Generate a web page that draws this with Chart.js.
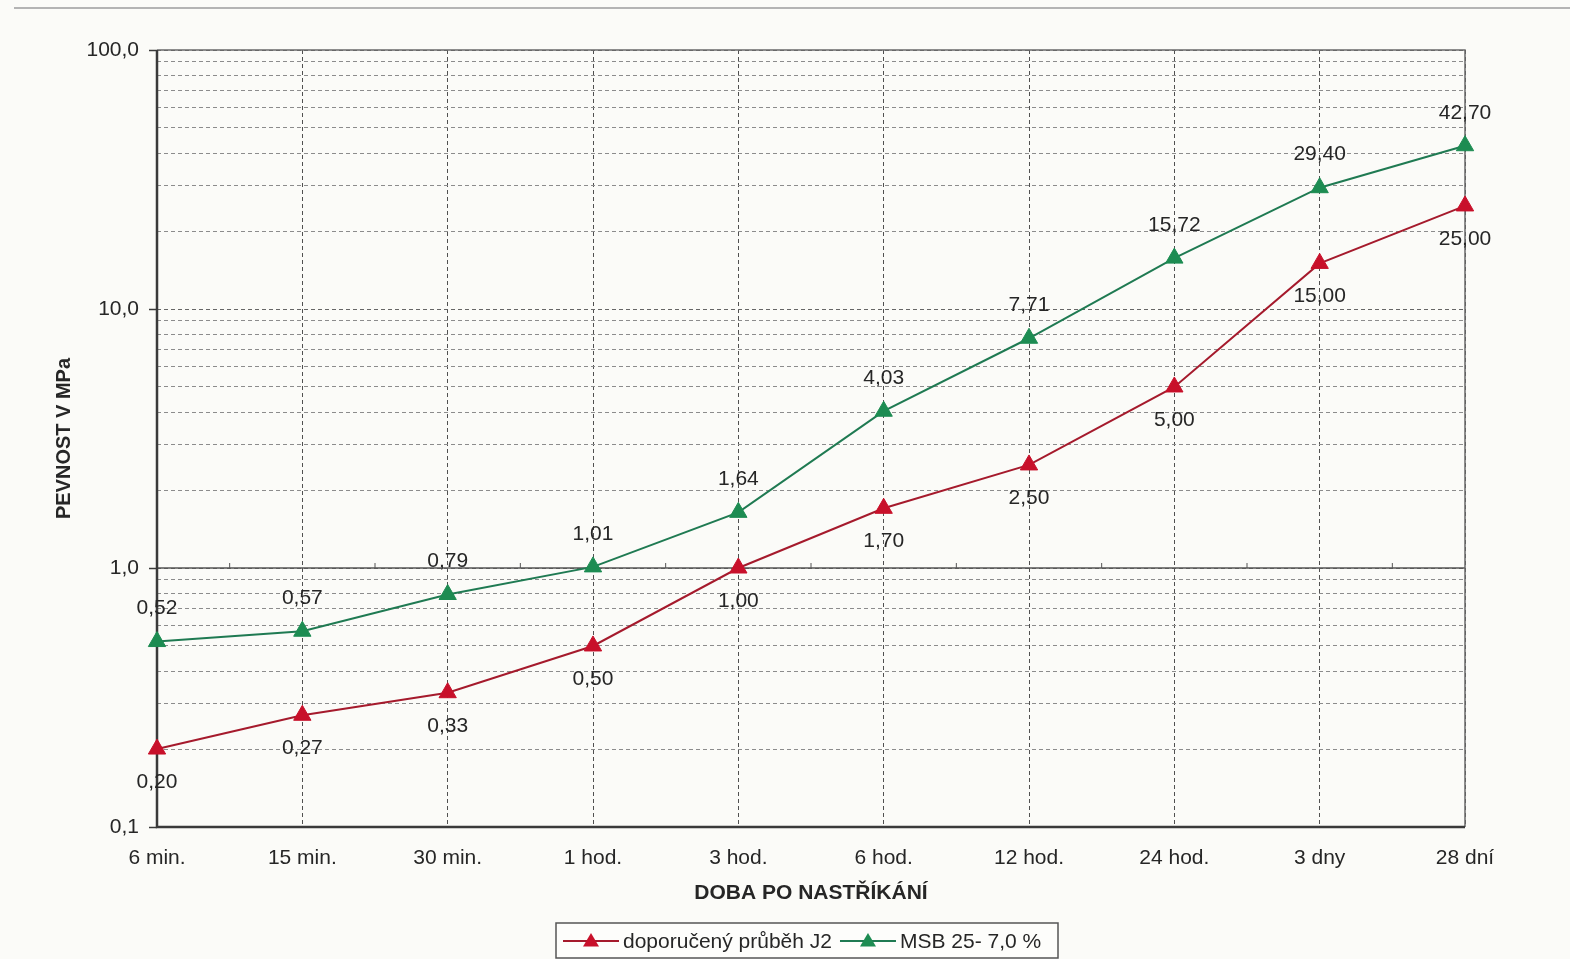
<!DOCTYPE html>
<html>
<head>
<meta charset="utf-8">
<title>Pevnost v MPa</title>
<script src="https://cdn.jsdelivr.net/npm/chart.js@4.4.1/dist/chart.umd.min.js"></script>
<style>
  html, body { margin: 0; padding: 0; background: #fbfbf8; }
  #wrap { position: relative; width: 1570px; height: 959px; }
  #rule { position: absolute; left: 14px; right: 0; top: 7px; height: 0; border-top: 2px solid #b4b4b4; }
  canvas { position: absolute; left: 0; top: 0; }
</style>
</head>
<body>
<div id="wrap">
  <div id="rule"></div>
  <canvas id="chart" width="1570" height="959"></canvas>
</div>
<script>
// Categories: time after spraying
const categories = ['6 min.', '15 min.', '30 min.', '1 hod.', '3 hod.', '6 hod.', '12 hod.', '24 hod.', '3 dny', '28 dní'];

// Strength in MPa
const recommendedJ2 = [0.20, 0.27, 0.33, 0.50, 1.00, 1.70, 2.50, 5.00, 15.00, 25.00];
const msb25 = [0.52, 0.57, 0.79, 1.01, 1.64, 4.03, 7.71, 15.72, 29.40, 42.70];

const seriesNames = ['doporučený průběh J2', 'MSB 25- 7,0 %'];

// Log axis: decades labelled, intermediate steps only as grid lines
const decadeTicks = [0.1, 1, 10, 100];

const FONT = 'Liberation Sans, Arial, sans-serif';
const TEXT = '#262626';
const RED_LINE = '#a51a2c', RED_MARK = '#c8102a';
const GREEN_LINE = '#1f7a52', GREEN_MARK = '#1d8c52';

function isDecade(v) {
  return decadeTicks.some(d => Math.abs(v - d) < 1e-9);
}
function fmt(v, digits) {
  return v.toFixed(digits).replace('.', ',');
}

// Frame, solid 1,0 line and small category ticks on it
const framePlugin = {
  id: 'frame',
  beforeDatasetsDraw(chart) {
    const {ctx, chartArea: a, scales: {x, y}} = chart;
    ctx.save();
    const y1 = y.getPixelForValue(1);
    ctx.strokeStyle = '#555';
    ctx.lineWidth = 1.5;
    ctx.beginPath();
    ctx.moveTo(a.left, y1);
    ctx.lineTo(a.right, y1);
    ctx.stroke();
    ctx.lineWidth = 1;
    for (let i = 0; i < categories.length - 1; i++) {
      const xm = (x.getPixelForValue(i) + x.getPixelForValue(i + 1)) / 2;
      ctx.beginPath();
      ctx.moveTo(xm, y1);
      ctx.lineTo(xm, y1 - 5);
      ctx.stroke();
    }
    ctx.strokeStyle = '#6a6a6a';
    ctx.lineWidth = 1.5;
    ctx.beginPath();
    ctx.moveTo(a.left, a.top);
    ctx.lineTo(a.right, a.top);
    ctx.lineTo(a.right, a.bottom);
    ctx.stroke();
    ctx.strokeStyle = '#3a3a3a';
    ctx.lineWidth = 2.5;
    ctx.beginPath();
    ctx.moveTo(a.left, a.top);
    ctx.lineTo(a.left, a.bottom);
    ctx.lineTo(a.right, a.bottom);
    ctx.stroke();
    ctx.restore();
  }
};

// Value labels: green above its points, red below
const valueLabelPlugin = {
  id: 'valueLabels',
  afterDatasetsDraw(chart) {
    const {ctx} = chart;
    ctx.save();
    ctx.font = '21px ' + FONT;
    ctx.fillStyle = TEXT;
    ctx.textAlign = 'center';
    ctx.textBaseline = 'middle';
    chart.data.datasets.forEach((ds, di) => {
      const meta = chart.getDatasetMeta(di);
      const dy = di === 1 ? -33 : 33;
      meta.data.forEach((pt, i) => {
        ctx.fillText(fmt(ds.data[i], 2), pt.x, pt.y + dy);
      });
    });
    ctx.restore();
  }
};

// Boxed legend below the axis title
const legendBoxPlugin = {
  id: 'legendBox',
  afterDraw(chart) {
    const {ctx} = chart;
    const box = {left: 556, top: 923, right: 1058, bottom: 958};
    const cy = 941;
    ctx.save();
    ctx.fillStyle = '#fdfdfb';
    ctx.fillRect(box.left, box.top, box.right - box.left, box.bottom - box.top);
    ctx.strokeStyle = '#555';
    ctx.lineWidth = 1.5;
    ctx.strokeRect(box.left, box.top, box.right - box.left, box.bottom - box.top);
    ctx.font = '21px ' + FONT;
    ctx.textBaseline = 'middle';
    ctx.textAlign = 'left';
    let xPos = box.left + 7;
    chart.data.datasets.forEach((ds) => {
      const lineLen = 56;
      ctx.strokeStyle = ds.borderColor;
      ctx.lineWidth = 2;
      ctx.beginPath();
      ctx.moveTo(xPos, cy);
      ctx.lineTo(xPos + lineLen, cy);
      ctx.stroke();
      const tx = xPos + lineLen / 2, r = 8;
      ctx.fillStyle = ds.pointBackgroundColor;
      ctx.beginPath();
      ctx.moveTo(tx, cy - r);
      ctx.lineTo(tx + r, cy + r * 0.7);
      ctx.lineTo(tx - r, cy + r * 0.7);
      ctx.closePath();
      ctx.fill();
      ctx.fillStyle = TEXT;
      ctx.fillText(ds.label, xPos + lineLen + 4, cy + 1);
      xPos += lineLen + 4 + ctx.measureText(ds.label).width + 8;
    });
    ctx.restore();
  }
};

const allLogTicks = [];
for (let e = -1; e <= 1; e++) {
  for (let m = 1; m <= 9; m++) {
    allLogTicks.push(+(m * Math.pow(10, e)).toPrecision(3));
  }
}
allLogTicks.push(100);

new Chart(document.getElementById('chart'), {
  type: 'line',
  data: {
    labels: categories,
    datasets: [
      {
        label: seriesNames[0],
        data: recommendedJ2,
        borderColor: RED_LINE,
        borderWidth: 2,
        pointStyle: 'triangle',
        pointRadius: 10,
        pointBackgroundColor: RED_MARK,
        pointBorderColor: RED_MARK,
        pointBorderWidth: 1,
        tension: 0
      },
      {
        label: seriesNames[1],
        data: msb25,
        borderColor: GREEN_LINE,
        borderWidth: 2,
        pointStyle: 'triangle',
        pointRadius: 10,
        pointBackgroundColor: GREEN_MARK,
        pointBorderColor: GREEN_MARK,
        pointBorderWidth: 1,
        tension: 0
      }
    ]
  },
  options: {
    responsive: false,
    animation: false,
    layout: { padding: { top: 50, right: 105, left: 0, bottom: 0 } },
    plugins: {
      legend: { display: false },
      tooltip: { enabled: false }
    },
    scales: {
      x: {
        type: 'category',
        offset: false,
        afterFit(scale) { scale.height = 132; },
        grid: {
          color: '#505050',
          lineWidth: 1,
          drawTicks: false
        },
        border: { display: false, dash: [4, 3] },
        ticks: {
          padding: 19,
          color: TEXT,
          font: { family: FONT, size: 21 },
          maxRotation: 0,
          autoSkip: false
        },
        title: {
          display: true,
          text: 'DOBA PO NASTŘÍKÁNÍ',
          color: TEXT,
          font: { family: FONT, size: 21, weight: 'bold' },
          padding: { top: 0, bottom: 53 }
        }
      },
      y: {
        type: 'logarithmic',
        min: 0.1,
        max: 100,
        afterFit(scale) { scale.width = 157; },
        afterBuildTicks(scale) {
          scale.ticks = allLogTicks.map(v => ({ value: v, major: isDecade(v) }));
        },
        grid: {
          color: ctx => (ctx.tick && isDecade(ctx.tick.value)) ? '#666' : '#8c8c8c',
          lineWidth: 1,
          drawTicks: true,
          tickLength: 8,
          tickColor: ctx => (ctx.tick && isDecade(ctx.tick.value)) ? '#3a3a3a' : 'rgba(0,0,0,0)',
          tickWidth: 1.5
        },
        border: { display: false, dash: [4, 3] },
        ticks: {
          padding: 10,
          color: TEXT,
          font: { family: FONT, size: 21 },
          autoSkip: false,
          callback: v => isDecade(v) ? fmt(v, 1) : ''
        },
        title: {
          display: true,
          text: 'PEVNOST V MPa',
          color: TEXT,
          font: { family: FONT, size: 20, weight: 'bold' },
          padding: { top: 52, bottom: 0 }
        }
      }
    }
  },
  plugins: [framePlugin, valueLabelPlugin, legendBoxPlugin]
});
</script>
</body>
</html>
